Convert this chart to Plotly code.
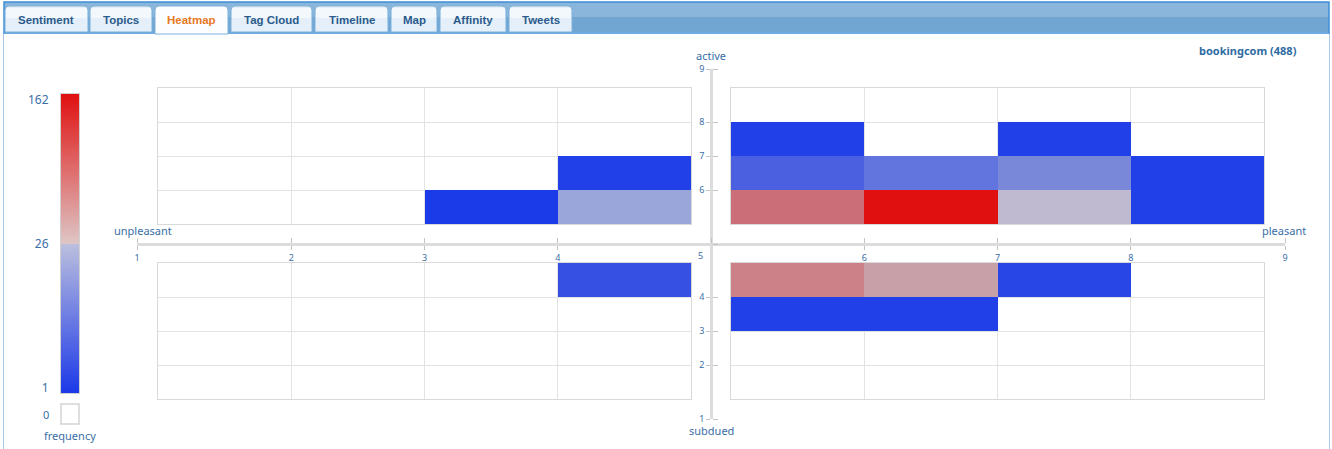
import plotly.graph_objects as go

W, H = 1332, 449

# ---------------- data ----------------
pleasure_bin = [3, 4, 4, 5, 7, 5, 6, 7, 8, 5, 6, 7, 8, 4, 5, 6, 7, 5, 6]
arousal_bin = [5, 6, 5, 7, 7, 6, 6, 6, 6, 5, 5, 5, 5, 4, 4, 4, 4, 3, 3]
frequency = [1, 2, 20, 2, 2, 8, 12, 16, 2, 91, 162, 25, 2, 5, 78, 53, 3, 2, 2]
scale_ticks = [1, 26, 162]
axis_values = [1, 2, 3, 4, 5, 6, 7, 8, 9]
tab_labels = ["Sentiment", "Topics", "Heatmap", "Tag Cloud", "Timeline", "Map", "Affinity", "Tweets"]
active_tab = "Heatmap"
title_text = "bookingcom (488)"

# ---------------- layout constants ----------------
QL = (158, 691)   # left quadrant px
QR = (731, 1264)  # right quadrant px
QT = (88, 224)    # top quadrant px (y)
QB = (263, 399)   # bottom quadrant px (y)
CX, CY = 711, 244  # central axes crossing
PADX, PADY = 21, 19
BAR_X = (61, 79)
BAR_Y = (94, 393)
TAB_EDGES = [(5, 88), (90, 152), (155, 228), (231, 312), (315, 388), (391, 437), (440, 506), (509, 572)]

BLUE_TXT = "#3a6ea5"
FONT = "Noto Sans"


def fx(p):
    return p / W


def fy(p):
    return 1 - p / H


lo, mid, hi = scale_ticks


def to_c(f):
    if f <= mid:
        return 0.5 * (f - lo) / (mid - lo)
    return 0.5 + 0.5 * (f - mid) / (hi - mid)


# colours used for the cells and for the legend bar
cell_scale = [[0.0, "#1b3be8"], [0.14, "#4a60e0"], [0.3, "#7a88da"], [0.38, "#9aa6da"],
              [0.5, "#c6bece"], [0.6, "#c8a0a8"], [0.69, "#cc8088"], [0.74, "#cc6e78"],
              [1.0, "#e01010"]]
bar_scale = [[0.0, "#1b38e8"], [0.5, "#bcbfde"], [0.5, "#dec6c6"], [1.0, "#e01010"]]

fig = go.Figure()

quads = [
    ("x", "y", (1, 5), (5, 9)),
    ("x2", "y", (5, 9), (5, 9)),
    ("x", "y2", (1, 5), (1, 5)),
    ("x2", "y2", (5, 9), (1, 5)),
]
for xa, ya, (x0, x1), (y0, y1) in quads:
    xs = list(range(x0, x1))
    ys = list(range(y0, y1))
    z, txt = [], []
    for yb in ys:
        row, trow = [], []
        for xb in xs:
            val = None
            for pb, ab, fr in zip(pleasure_bin, arousal_bin, frequency):
                if pb == xb and ab == yb:
                    val = fr
            row.append(None if val is None else to_c(val))
            trow.append("" if val is None else str(val))
        z.append(row)
        txt.append(trow)
    fig.add_trace(go.Heatmap(
        x=[v + 0.5 for v in xs], y=[v + 0.5 for v in ys], z=z, text=txt,
        hovertemplate="frequency: %{text}<extra></extra>",
        xaxis=xa, yaxis=ya, zmin=0, zmax=1, colorscale=cell_scale,
        showscale=False,
    ))

# colour legend bar
n = 200
grad = [i / (n - 1) for i in range(n)]
fig.add_trace(go.Heatmap(
    x=[0, 1], y=grad, z=[[g, g] for g in grad], xaxis="x3", yaxis="y3",
    zmin=0, zmax=1, colorscale=bar_scale, showscale=False, hoverinfo="skip",
))

# dummy trace for the central axes
fig.add_trace(go.Scatter(x=[None], y=[None], xaxis="x4", yaxis="y4", showlegend=False, hoverinfo="skip"))


def hpos(v):
    if v == 1:
        return QL[0] - PADX
    if v < 5:
        return QL[0] + (v - 1) * (QL[1] - QL[0]) / 4
    if v == 5:
        return CX
    if v < 9:
        return QR[0] + (v - 5) * (QR[1] - QR[0]) / 4
    return QR[1] + PADX


def vpos(v):
    if v == 9:
        return QT[0] - PADY
    if v > 5:
        return QT[0] + (9 - v) * (QT[1] - QT[0]) / 4
    if v == 5:
        return CY
    if v > 1:
        return QB[0] + (5 - v) * (QB[1] - QB[0]) / 4
    return QB[1] + PADY + 1


grid = dict(showgrid=True, gridcolor="#e3e3e3", gridwidth=1, dtick=1, tick0=0,
            showticklabels=False, ticks="", zeroline=False, showline=True,
            linecolor="#d9d9d9", linewidth=1, mirror="all", fixedrange=True, automargin=False)

hx = [v for v in axis_values if v != 5]
vy = [v for v in axis_values if v != 5]

# legend tick labels sit slightly inside the bar ends
bar_h = BAR_Y[1] - BAR_Y[0]
inset_lo, inset_hi = 5 / bar_h, 6 / bar_h
bar_tickvals = [min(max(to_c(v), inset_lo), 1 - inset_hi) for v in scale_ticks]

fig.update_layout(
    width=W, height=H, margin=dict(l=0, r=0, t=0, b=0, pad=0, autoexpand=False),
    paper_bgcolor="white", plot_bgcolor="rgba(0,0,0,0)", showlegend=False,
    font=dict(family=FONT, color=BLUE_TXT, size=11),
    xaxis=dict(domain=[fx(QL[0]), fx(QL[1])], range=[1, 5], anchor="y", **grid),
    xaxis2=dict(domain=[fx(QR[0]), fx(QR[1])], range=[5, 9], anchor="y", **grid),
    yaxis=dict(domain=[fy(QT[1]), fy(QT[0])], range=[5, 9], anchor="x", **grid),
    yaxis2=dict(domain=[fy(QB[1]), fy(QB[0])], range=[1, 5], anchor="x", **grid),
    xaxis3=dict(domain=[fx(BAR_X[0]), fx(BAR_X[1])], range=[0, 1], anchor="y3", showgrid=False,
                showticklabels=False, zeroline=False, showline=True, mirror=True,
                linecolor="#d0d0d0", fixedrange=True, automargin=False),
    yaxis3=dict(domain=[fy(BAR_Y[1]), fy(BAR_Y[0])], range=[0, 1], anchor="x3", showgrid=False,
                zeroline=False, showline=True, mirror=True, linecolor="#d0d0d0",
                tickvals=bar_tickvals, ticktext=[str(v) for v in scale_ticks],
                ticks="outside", ticklen=9, tickcolor="rgba(0,0,0,0)",
                tickfont=dict(size=12, color=BLUE_TXT, family=FONT), fixedrange=True, automargin=False),
    xaxis4=dict(domain=[fx(hpos(1)), fx(hpos(9))], range=[hpos(1), hpos(9)], anchor="free",
                position=fy(CY), showgrid=False, zeroline=False, showline=True,
                linecolor="#dcdcdc", linewidth=2.5,
                tickmode="array", tickvals=[hpos(v) for v in hx], ticktext=[str(v) for v in hx],
                ticks="outside", ticklen=4, tickcolor="#c4c4c4", tickwidth=1,
                minor=dict(tickmode="array", tickvals=[hpos(v) for v in axis_values], ticks="inside",
                           ticklen=5, tickcolor="#c4c4c4", tickwidth=1, showgrid=False),
                tickfont=dict(size=9, color=BLUE_TXT, family=FONT), fixedrange=True, automargin=False),
    yaxis4=dict(domain=[fy(vpos(1)), fy(vpos(9))], range=[vpos(1), vpos(9)], anchor="free",
                position=fx(CX), showgrid=False, zeroline=False, showline=True,
                linecolor="#dcdcdc", linewidth=2.5,
                tickmode="array", tickvals=[vpos(v) for v in vy], ticktext=[str(v) for v in vy],
                ticks="outside", ticklen=4, tickcolor="#c4c4c4", tickwidth=1,
                minor=dict(tickmode="array", tickvals=[vpos(v) for v in axis_values], ticks="inside",
                           ticklen=5, tickcolor="#c4c4c4", tickwidth=1, showgrid=False),
                tickfont=dict(size=9, color=BLUE_TXT, family=FONT), fixedrange=True, automargin=False),
)

shapes = []
ann = []


def label(x, y, text, size=11, color=BLUE_TXT, family=FONT):
    ann.append(dict(x=fx(x), y=fy(y), xref="paper", yref="paper", text=text, showarrow=False,
                    xanchor="center", yanchor="middle",
                    font=dict(size=size, color=color, family=family)))


# frame
shapes.append(dict(type="line", xref="paper", yref="paper", x0=fx(3.5), x1=fx(3.5), y0=fy(33), y1=fy(449),
                   line=dict(color="#a9c8e6", width=1)))
shapes.append(dict(type="line", xref="paper", yref="paper", x0=fx(1329.5), x1=fx(1329.5), y0=fy(33), y1=fy(449),
                   line=dict(color="#a9c8e6", width=1)))
# header bar
shapes.append(dict(type="rect", xref="paper", yref="paper", x0=fx(4), x1=fx(1329), y0=fy(17), y1=fy(2),
                   fillcolor="#89b6da", line=dict(width=0)))
shapes.append(dict(type="rect", xref="paper", yref="paper", x0=fx(4), x1=fx(1329), y0=fy(32), y1=fy(17),
                   fillcolor="#70a6d1", line=dict(width=0)))
shapes.append(dict(type="rect", xref="paper", yref="paper", x0=fx(4), x1=fx(1329), y0=fy(33), y1=fy(2),
                   fillcolor="rgba(0,0,0,0)", line=dict(color="#3d8fd8", width=1.5)))


def tab_path(x0, x1, y0, y1, r=4):
    return (f"M {fx(x0)},{fy(y1)} L {fx(x0)},{fy(y0 + r)} Q {fx(x0)},{fy(y0)} {fx(x0 + r)},{fy(y0)} "
            f"L {fx(x1 - r)},{fy(y0)} Q {fx(x1)},{fy(y0)} {fx(x1)},{fy(y0 + r)} L {fx(x1)},{fy(y1)} Z")


for name, (x0, x1) in zip(tab_labels, TAB_EDGES):
    active = name == active_tab
    y1 = 34 if active else 32
    shapes.append(dict(type="path", xref="paper", yref="paper", path=tab_path(x0, x1, 6, y1),
                       fillcolor="#fbfdff" if active else "#e4eff9",
                       line=dict(color="#7fb1dc", width=1)))
    if not active:
        shapes.append(dict(type="rect", xref="paper", yref="paper", x0=fx(x0 + 1), x1=fx(x1 - 1),
                           y0=fy(18), y1=fy(8), fillcolor="#f3f8fd", line=dict(width=0)))
    label((x0 + x1) / 2, 20, f"<b>{name}</b>", size=11.5,
          color="#e8781e" if active else "#2b5b8c", family="Liberation Sans")

# legend "0" box
shapes.append(dict(type="rect", xref="paper", yref="paper", x0=fx(BAR_X[0]), x1=fx(BAR_X[1]),
                   y0=fy(424), y1=fy(404), fillcolor="white", line=dict(color="#d4d4d4", width=1.5)))
label(46, 414, "0")
label(70, 435, "frequency")

# axis titles
label(CX, 55, "active")
label(CX, 430, "subdued")
label(143, 230, "unpleasant")
label(1284, 230, "pleasant")
label(700, 255, "5", size=9)
label(1248, 50, f"<b>{title_text}</b>", color="#2f6ca3")

fig.update_layout(shapes=shapes, annotations=ann)
fig.write_html("out.html", post_script="document.body.style.margin='0';document.body.style.overflow='hidden';")
